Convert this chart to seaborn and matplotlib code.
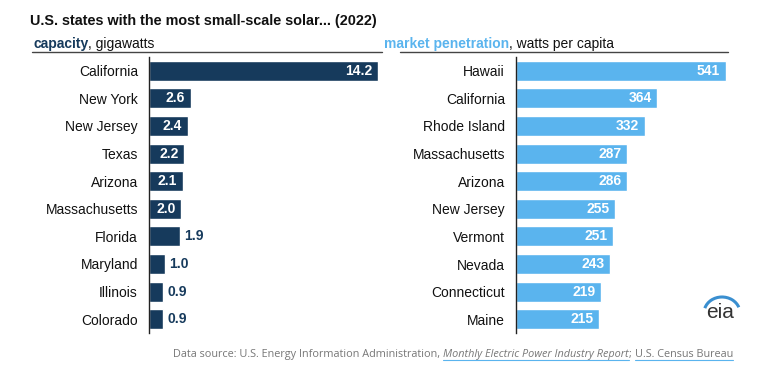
import matplotlib
matplotlib.use("Agg")
import matplotlib.pyplot as plt
from matplotlib.patches import Arc
import pandas as pd
import seaborn as sns

# capacity, gigawatts
cap_states = ["California", "New York", "New Jersey", "Texas", "Arizona",
              "Massachusetts", "Florida", "Maryland", "Illinois", "Colorado"]
cap_values = [14.2, 2.6, 2.4, 2.2, 2.1, 2.0, 1.9, 1.0, 0.9, 0.9]

# market penetration, watts per capita
pen_states = ["Hawaii", "California", "Rhode Island", "Massachusetts", "Arizona",
              "New Jersey", "Vermont", "Nevada", "Connecticut", "Maine"]
pen_values = [541, 364, 332, 287, 286, 255, 251, 243, 219, 215]

navy = "#163a5c"
sky = "#5ab4ee"

sns.set_style("white")
plt.rcParams["font.family"] = ["Liberation Sans", "DejaVu Sans"]

fig = plt.figure(figsize=(7.68, 3.73), dpi=100)
W, H = 768, 373


def px_axes(x0, y0, w, h):
    return fig.add_axes([x0 / W, 1 - (y0 + h) / H, w / W, h / H])


ax1 = px_axes(149, 57, 231, 276)
ax2 = px_axes(516, 57, 212, 276)

df1 = pd.DataFrame({"state": cap_states, "value": cap_values})
df2 = pd.DataFrame({"state": pen_states, "value": pen_values})

sns.barplot(data=df1, y="state", x="value", color=navy, width=0.72,
            saturation=1, ax=ax1)
sns.barplot(data=df2, y="state", x="value", color=sky, width=0.72,
            saturation=1, ax=ax2)

ax1.set_xlim(0, 14.34)
ax2.set_xlim(0, 547)

for ax in (ax1, ax2):
    ax.set_xlabel("")
    ax.set_ylabel("")
    ax.set_xticks([])
    for s in ("top", "right", "bottom"):
        ax.spines[s].set_visible(False)
    ax.spines["left"].set_color("#222222")
    ax.spines["left"].set_linewidth(1.0)
    ax.tick_params(axis="y", length=0, pad=8, labelsize=10, labelcolor="#111111")

# value labels, left panel
for i, v in enumerate(cap_values):
    if v >= 2.0:
        ax1.annotate(f"{v:.1f}", xy=(v, i), xytext=(-4, 0), textcoords="offset points",
                     ha="right", va="center", color="white", fontsize=10, fontweight="bold")
    else:
        ax1.annotate(f"{v:.1f}", xy=(v, i), xytext=(3, 0), textcoords="offset points",
                     ha="left", va="center", color=navy, fontsize=10, fontweight="bold")

for i, v in enumerate(pen_values):
    ax2.annotate(f"{v}", xy=(v, i), xytext=(-4, 0), textcoords="offset points",
                 ha="right", va="center", color="white", fontsize=10, fontweight="bold")

# title and panel headers
fig.text(30 / W, 1 - 21 / H, "U.S. states with the most small-scale solar... (2022)",
         fontsize=10.4, fontweight="bold", color="#111111", va="center")

fig.canvas.draw()
r = fig.canvas.get_renderer()


def run(x, y, parts, **kw):
    # draw a row of text pieces one after another
    for txt, style in parts:
        t = fig.text(x / W, 1 - y / H, txt, va="baseline", **kw, **style)
        bb = t.get_window_extent(renderer=r)
        x += bb.width
    return x


run(33, 48, [("capacity", {"color": navy, "fontweight": "bold"}),
             (", gigawatts", {"color": "#111111"})], fontsize=10)
run(384, 48, [("market penetration", {"color": sky, "fontweight": "bold"}),
              (", watts per capita", {"color": "#111111"})], fontsize=10)

fig.add_artist(plt.Line2D([32 / W, 382 / W], [1 - 52 / H] * 2, color="#444444", lw=1))
fig.add_artist(plt.Line2D([400 / W, 728 / W], [1 - 52 / H] * 2, color="#444444", lw=1))

# footer
grey = "#777777"
foot = [("Data source: U.S. Energy Information Administration, ", {}),
        ("Monthly Electric Power Industry Report", {"style": "italic"}),
        ("; ", {}),
        ("U.S. Census Bureau", {})]
widths = []
for txt, style in foot:
    t = fig.text(0, 0, txt, fontsize=7.8, family="Open Sans", **style)
    widths.append(t.get_window_extent(renderer=r).width)
    t.remove()
x = 733 - sum(widths)
for (txt, style), w in zip(foot, widths):
    fig.text(x / W, 1 - 357 / H, txt, fontsize=7.8, family="Open Sans", color=grey,
             va="baseline", **style)
    if txt in ("Monthly Electric Power Industry Report", "U.S. Census Bureau"):
        fig.add_artist(plt.Line2D([x / W, (x + w) / W], [1 - 360 / H] * 2,
                                  color="#5ab4ee", lw=0.8))
    x += w

# eia logo
fig.text(720 / W, 1 - 312 / H, "eia", fontsize=15, color="#333333", ha="center",
         va="center", family="Liberation Sans")
fig.add_artist(Arc((722 / W, 1 - 313 / H), 36 / W, 32 / H, theta1=35, theta2=150,
                   transform=fig.transFigure, color="#3a8fd0", lw=2.2))

fig.savefig("out.png", dpi=100)
